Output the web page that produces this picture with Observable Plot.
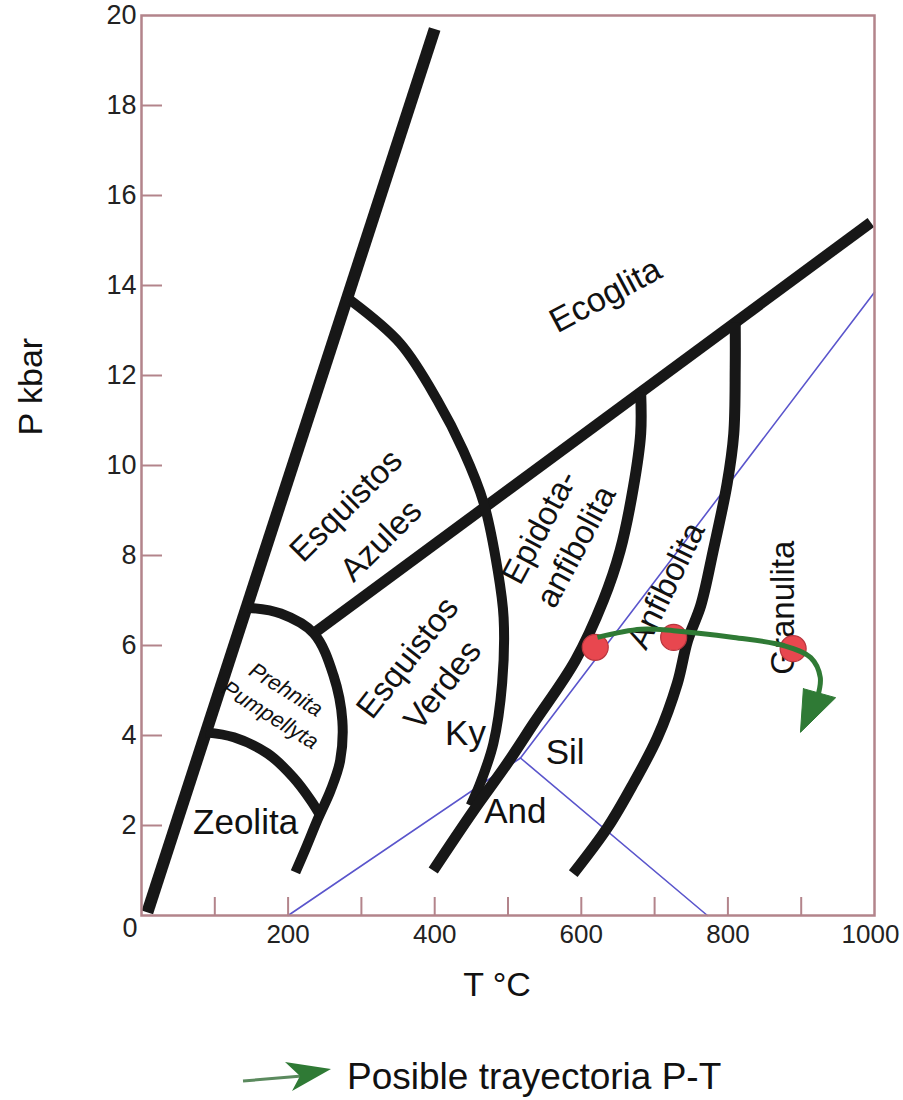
<!DOCTYPE html>
<html>
<head>
<meta charset="utf-8">
<script src="https://cdn.jsdelivr.net/npm/d3@7"></script>
<script src="https://cdn.jsdelivr.net/npm/@observablehq/plot@0.6"></script>
<style>
  body { margin: 0; background: #fff; font-family: "Liberation Sans", Arial, sans-serif; }
  #legend { display: flex; align-items: center; height: 40px; padding-top: 27px; padding-left: 240px; }
  #legend span { font-size: 37px; color: #111; margin-left: 12px; }
</style>
</head>
<body>
<div id="chart"></div>
<div id="legend"></div>
<script>
// ---- axis ticks (T in °C, P in kbar) ----
const xTicks = [100, 200, 300, 400, 500, 600, 700, 800, 900];
const xLabels = [200, 400, 600, 800];
const xLabelLast = [1000];
const yTicks = [2, 4, 6, 8, 10, 12, 14, 16, 18];
const yLabels = [2, 4, 6, 8, 10, 12, 14, 16, 18, 20];
const originLabel = ["0"];

// ---- facies boundaries [T, P] ----
const boundaryLeft = [[8, 0.07], [400, 19.7]];
const boundaryEclogite = [[235, 6.27], [995, 15.4]];
const boundaryBlueGreen = [[285, 13.67], [353, 12.71], [404, 11.44], [439, 10.33], [467, 9.16], [486, 7.67], [494, 6.62], [492, 5.16], [480, 3.82], [462, 2.93], [449, 2.44]];
const boundaryPrehnite = [[145, 6.84], [190, 6.71], [235, 6.27], [262, 5.33], [274, 4.33], [271, 3.44], [258, 2.78], [241, 2.16], [224, 1.49], [210, 0.96]];
const boundaryZeolite = [[88, 4.07], [126, 3.96], [172, 3.6], [207, 3.07], [231, 2.56], [244, 2.22]];
const boundaryEpidote = [[681, 11.62], [681, 10.71], [671, 9.51], [653, 8.11], [630, 7.0], [592, 5.67], [535, 4.27], [499, 3.38], [453, 2.33], [398, 1.0]];
const boundaryGranulite = [[810, 13.18], [810, 12.18], [808, 10.71], [799, 9.6], [780, 8.11], [763, 6.89], [745, 6.11], [731, 5.16], [704, 3.96], [671, 2.93], [636, 1.96], [589, 0.93]];

// ---- Al2SiO5 triple point lines ----
const andKy = [[200, 0], [517, 3.5]];
const kySil = [[517, 3.5], [1000, 13.85]];
const andSil = [[517, 3.5], [772, 0]];

// ---- P-T path ----
const ptPoints = [[619, 5.96], [726, 6.18], [889, 5.93]];
const ptPath = [[622, 6.18], [681, 6.36], [726, 6.33], [808, 6.18], [876, 6.0], [913, 5.73], [926, 5.29], [922, 4.84]];
const ptArrowHead = [[903, 5.04], [947, 4.84], [899, 4.07], [903, 5.04]];

// ---- region labels [text, T, P] ----
const regionLabels = [
  {name: "Ecoglita", T: 633, P: 13.78},
  {name: "Esquistos\nAzules", T: 298, P: 8.8},
  {name: "Esquistos\nVerdes", T: 383, P: 5.47},
  {name: "Epidota-\nanfibolita", T: 565, P: 8.44},
  {name: "Anfibolita", T: 716, P: 7.33},
  {name: "Granulita", T: 876, P: 6.84},
  {name: "Prehnita\nPumpellyta", T: 188, P: 4.78},
  {name: "Zeolita", T: 142, P: 2.07},
  {name: "Ky", T: 442, P: 4.04},
  {name: "Sil", T: 578, P: 3.62},
  {name: "And", T: 510, P: 2.31}
];
const labelStyle = {
  "Ecoglita": {rotate: -28, fontSize: 34},
  "Esquistos\nAzules": {rotate: -45, fontSize: 33, lineHeight: 1.5},
  "Esquistos\nVerdes": {rotate: -52, fontSize: 33, lineHeight: 1.35},
  "Epidota-\nanfibolita": {rotate: -62, fontSize: 33, lineHeight: 1.25},
  "Anfibolita": {rotate: -64, fontSize: 33},
  "Granulita": {rotate: -90, fontSize: 33},
  "Prehnita\nPumpellyta": {rotate: 32, fontSize: 22, lineHeight: 1.35, fontStyle: "italic"},
  "Zeolita": {rotate: 0, fontSize: 35},
  "Ky": {rotate: 0, fontSize: 35},
  "Sil": {rotate: 0, fontSize: 35},
  "And": {rotate: 0, fontSize: 35}
};

const axisColor = "#b3848b";
const black = "#171717";
const blue = "#5a55cc";
const green = "#2f7a35";
const plain = d => String(d);

const labelMarks = regionLabels.map(d => Plot.text([d], {
  x: "T", y: "P", text: "name", fill: "#111",
  textAnchor: "middle", lineAnchor: "middle",
  ...labelStyle[d.name]
}));

const chart = Plot.plot({
  width: 903,
  height: 1030,
  marginLeft: 141,
  marginRight: 29,
  marginTop: 15,
  marginBottom: 115,
  style: {fontFamily: "'Liberation Sans', Arial, sans-serif", background: "#fff"},
  x: {domain: [0, 1000]},
  y: {domain: [0, 20]},
  marks: [
    // blue Al2SiO5 lines
    Plot.line(andKy, {stroke: blue, strokeWidth: 1.6}),
    Plot.line(kySil, {stroke: blue, strokeWidth: 1.6}),
    Plot.line(andSil, {stroke: blue, strokeWidth: 1.6}),
    // facies boundaries
    Plot.line(boundaryLeft, {stroke: black, strokeWidth: 12, strokeLinecap: "butt"}),
    Plot.line(boundaryEclogite, {stroke: black, strokeWidth: 11, strokeLinecap: "butt"}),
    Plot.line(boundaryBlueGreen, {stroke: black, strokeWidth: 10, curve: "catmull-rom", strokeLinecap: "butt"}),
    Plot.line(boundaryPrehnite, {stroke: black, strokeWidth: 10, curve: "catmull-rom", strokeLinecap: "butt"}),
    Plot.line(boundaryZeolite, {stroke: black, strokeWidth: 10, curve: "catmull-rom", strokeLinecap: "butt"}),
    Plot.line(boundaryEpidote, {stroke: black, strokeWidth: 11, curve: "catmull-rom", strokeLinecap: "butt"}),
    Plot.line(boundaryGranulite, {stroke: black, strokeWidth: 11, curve: "catmull-rom", strokeLinecap: "butt"}),
    // labels
    ...labelMarks,
    // P-T points and path
    Plot.dot(ptPoints, {r: 13, fill: "#e8474f", stroke: "#b8353e", strokeWidth: 1.2}),
    Plot.line(ptPath, {stroke: green, strokeWidth: 5, curve: "catmull-rom", strokeLinecap: "butt"}),
    Plot.line(ptArrowHead, {fill: green, stroke: green, strokeWidth: 1}),
    // frame and axes
    Plot.frame({stroke: axisColor, strokeWidth: 2.5}),
    Plot.axisX(xTicks, {tickSize: -18, text: null, stroke: axisColor, strokeWidth: 2, label: null}),
    Plot.axisY(yTicks, {tickSize: -21, text: null, stroke: axisColor, strokeWidth: 2, label: null}),
    Plot.axisX(xLabels, {tickSize: 0, tickPadding: 9, fontSize: 26, fill: "#222", label: null, tickFormat: plain}),
    Plot.axisX(xLabelLast, {tickSize: 0, tickPadding: 9, fontSize: 26, fill: "#222", label: null, tickFormat: plain, dx: -4}),
    Plot.axisY(yLabels, {tickSize: 0, tickPadding: 5, fontSize: 27, fill: "#222", label: null}),
    Plot.text(originLabel, {x: () => 0, y: () => 0, text: d => d, dx: -4, dy: 13, textAnchor: "end", fontSize: 27, fill: "#222"}),
    // axis titles
    Plot.text(["P kbar"], {frameAnchor: "left", dx: -110, dy: -30, rotate: -90, fontSize: 34, fill: "#111"}),
    Plot.text(["T °C"], {frameAnchor: "bottom", dx: -11, dy: 80, fontSize: 34, fill: "#111"})
  ]
});
document.getElementById("chart").append(chart);

// legend
const legend = document.getElementById("legend");
legend.innerHTML = `<svg width="95" height="40" viewBox="0 0 95 40">
  <line x1="3" y1="24" x2="62" y2="19" stroke="#5b8a5e" stroke-width="3"/>
  <polygon points="45,5 91,12 52,34 60,19" fill="${green}"/>
</svg><span>Posible trayectoria P-T</span>`;
</script>
</body>
</html>
